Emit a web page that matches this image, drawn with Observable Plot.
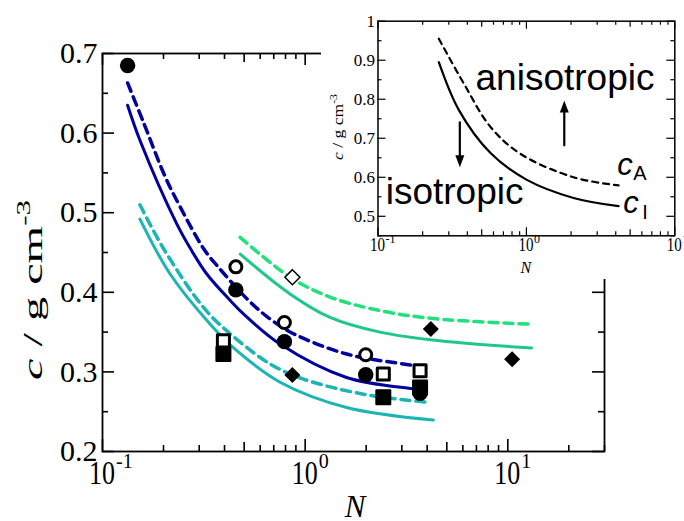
<!DOCTYPE html>
<html><head><meta charset="utf-8">
<script src="https://cdn.jsdelivr.net/npm/d3@7"></script>
<script src="https://cdn.jsdelivr.net/npm/@observablehq/plot@0.6"></script>
<style>
html,body{margin:0;padding:0;background:#fff;}
#wrap{position:relative;width:684px;height:521px;overflow:hidden;}
#wrap svg{position:absolute;top:0;left:0;max-width:none;}
</style></head><body><div id="wrap"></div>
<script>
// ---------- main chart data (N, c in g/cm^3) ----------
const navyDashN = [0.133, 0.159, 0.204, 0.242, 0.315, 0.366, 0.525, 0.671, 0.875, 1.60, 3.05, 3.5];
const navyDashC = [0.663, 0.614, 0.545, 0.507, 0.455, 0.434, 0.390, 0.3665, 0.348, 0.3225, 0.310, 0.308];
const navySolidN = [0.133, 0.153, 0.2325, 0.276, 0.327, 0.426, 0.496, 0.752, 1.60, 3.42, 3.7];
const navySolidC = [0.635, 0.591, 0.486, 0.452, 0.423, 0.390, 0.373, 0.335, 0.293, 0.2785, 0.277];
const tealDashN = [0.153, 0.20, 0.315, 0.426, 0.671, 0.98, 1.94, 4.13];
const tealDashC = [0.510, 0.455, 0.381, 0.348, 0.310, 0.291, 0.272, 0.2616];
const tealSolidN = [0.153, 0.2156, 0.34, 0.46, 0.752, 1.60, 4.29];
const tealSolidC = [0.492, 0.423, 0.360, 0.3267, 0.287, 0.2553, 0.2395];
const greenDashN = [0.478, 0.842, 1.327, 2.34, 4.29, 12.87];
const greenDashC = [0.469, 0.419, 0.394, 0.377, 0.367, 0.360];
const greenSolidN = [0.478, 0.842, 1.327, 2.34, 4.63, 13.1];
const greenSolidC = [0.448, 0.398, 0.3685, 0.350, 0.339, 0.330];

const filledCircleN = [0.133, 0.455, 0.79, 1.99, 3.69];
const filledCircleC = [0.685, 0.403, 0.338, 0.2965, 0.273];
const openCircleN = [0.455, 0.79, 1.99];
const openCircleC = [0.432, 0.362, 0.3216];
const filledSquareN = [0.395, 2.43, 3.69];
const filledSquareC = [0.3225, 0.268, 0.2804];
const openSquareN = [0.395, 2.43, 3.69];
const openSquareC = [0.339, 0.2973, 0.3015];
const filledDiamondN = [0.865, 4.17, 10.5];
const filledDiamondC = [0.296, 0.354, 0.316];
const openDiamondN = [0.865];
const openDiamondC = [0.419];

// ---------- inset data ----------
const cIN = [0.257, 0.351, 0.573, 1.0, 2.08, 4.18];
const cIC = [0.895, 0.772, 0.662, 0.594, 0.547, 0.526];
const cAN = [0.257, 0.379, 0.573, 0.912, 2.08, 4.18];
const cAC = [0.955, 0.840, 0.729, 0.660, 0.600, 0.579];
const arrowN = [0.356, 1.80];
const arrowFrom = [0.741, 0.682];
const arrowTo = [0.626, 0.797];
const regionLabels = ["anisotropic", "isotropic"];
const regionN = [0.454, 0.1127];
const regionC = [0.823, 0.5325];
const curveLabels = ["c", "c"];
const curveLabelN = [4.09, 4.49];
const curveLabelC = [0.605, 0.508];
const curveSubs = ["A", "I"];
const curveSubN = [5.24, 6.03];
const curveSubC = [0.592, 0.492];

// ---------- ticks ----------
const xMajor = [0.1, 1, 10];
const xExp = ["-1", "0", "1"];
const xMid = [0.5, 5];
const xMinorMain = [0.2,0.3,0.4,0.6,0.7,0.8,0.9,2,3,4,6,7,8,9,20,30];
const xMinorInset = [0.2,0.3,0.4,0.6,0.7,0.8,0.9,2,3,4,6,7,8,9];
const yMajorMain = [0.2,0.3,0.4,0.5,0.6,0.7];
const yMinorMain = [0.25,0.35,0.45,0.55,0.65];
const yMajorInset = [0.5,0.6,0.7,0.8,0.9,1.0];
const yMinorInset = [0.45,0.55,0.65,0.75,0.85,0.95];

const pts = (N, C) => N.map((n, i) => ({N: n, c: C[i]}));
const SERIF = "'Liberation Serif','Times New Roman',serif";
const SANS = "'Liberation Sans',Arial,sans-serif";

const diamond = {draw(ctx, size) { const r = Math.sqrt(size / Math.PI); ctx.moveTo(0, -r); ctx.lineTo(r, 0); ctx.lineTo(0, r); ctx.lineTo(-r, 0); ctx.closePath(); }};
const headUp = {draw(ctx, size) { const r = Math.sqrt(size / Math.PI); ctx.moveTo(0, 0); ctx.lineTo(0.75 * r, 2 * r); ctx.lineTo(-0.75 * r, 2 * r); ctx.closePath(); }};
const headDown = {draw(ctx, size) { const r = Math.sqrt(size / Math.PI); ctx.moveTo(0, 0); ctx.lineTo(0.75 * r, -2 * r); ctx.lineTo(-0.75 * r, -2 * r); ctx.closePath(); }};

function tickMarks(xs, ys, fw, fh, lenX, lenY, sw) {
  const out = [];
  xs.forEach((vals, k) => {
    out.push(Plot.ruleX(vals, {x: d => d, insetTop: fh - lenX[k], stroke: "black", strokeWidth: sw}));
    out.push(Plot.ruleX(vals, {x: d => d, insetBottom: fh - lenX[k], stroke: "black", strokeWidth: sw}));
  });
  ys.forEach((vals, k) => {
    out.push(Plot.ruleY(vals, {y: d => d, insetRight: fw - lenY[k], stroke: "black", strokeWidth: sw}));
    out.push(Plot.ruleY(vals, {y: d => d, insetLeft: fw - lenY[k], stroke: "black", strokeWidth: sw}));
  });
  return out;
}

const W = 684, H = 521;
const mL = 102, mR = 80, mT = 53, mB = 70;
const fw = W - mL - mR, fh = H - mT - mB;

const NAVY = "#00009c", TEAL = "#1cb4b4", GREEN = "#1fc78b", GREEN2 = "#22e07d";
const dash = "9,6";

const main = Plot.plot({
  width: W, height: H,
  marginLeft: mL, marginRight: mR, marginTop: mT, marginBottom: mB,
  x: {type: "log", domain: [0.1, 30], axis: null},
  y: {domain: [0.2, 0.7], axis: null},
  style: {fontFamily: SERIF, background: "white", color: "black"},
  marks: [
    Plot.frame({stroke: "black", strokeWidth: 1.8}),
    ...tickMarks([xMajor, xMid, xMinorMain], [yMajorMain, yMinorMain], fw, fh, [12, 9, 6], [12, 6], 1.6),
    Plot.axisY({ticks: yMajorMain, tickSize: 0, tickPadding: 5, fontSize: 30, tickFormat: d3.format(".1f"), label: null}),
    Plot.line(pts(greenDashN, greenDashC), {x: "N", y: "c", stroke: GREEN2, strokeWidth: 3.5, strokeDasharray: dash, curve: "catmull-rom"}),
    Plot.line(pts(greenSolidN, greenSolidC), {x: "N", y: "c", stroke: GREEN, strokeWidth: 3, curve: "catmull-rom"}),
    Plot.line(pts(tealDashN, tealDashC), {x: "N", y: "c", stroke: TEAL, strokeWidth: 3.5, strokeDasharray: dash, curve: "catmull-rom"}),
    Plot.line(pts(tealSolidN, tealSolidC), {x: "N", y: "c", stroke: TEAL, strokeWidth: 3, curve: "catmull-rom"}),
    Plot.line(pts(navyDashN, navyDashC), {x: "N", y: "c", stroke: NAVY, strokeWidth: 3.5, strokeDasharray: dash, curve: "catmull-rom"}),
    Plot.line(pts(navySolidN, navySolidC), {x: "N", y: "c", stroke: NAVY, strokeWidth: 3, curve: "catmull-rom"}),
    Plot.dot(pts(filledSquareN, filledSquareC), {x: "N", y: "c", symbol: "square", r: 7.9, fill: "black", stroke: "black", strokeWidth: 2, strokeLinejoin: "round"}),
    Plot.dot(pts(openSquareN, openSquareC), {x: "N", y: "c", symbol: "square", r: 6.8, fill: "white", stroke: "black", strokeWidth: 3, strokeLinejoin: "round"}),
    Plot.dot(pts(filledCircleN, filledCircleC), {x: "N", y: "c", symbol: "circle", r: 7.7, fill: "black"}),
    Plot.dot(pts(openCircleN, openCircleC), {x: "N", y: "c", symbol: "circle", r: 6, fill: "white", stroke: "black", strokeWidth: 3}),
    Plot.dot(pts(filledDiamondN, filledDiamondC), {x: "N", y: "c", symbol: diamond, r: 8, fill: "black"}),
    Plot.dot(pts(openDiamondN, openDiamondC), {x: "N", y: "c", symbol: diamond, r: 7.5, fill: "white", stroke: "black", strokeWidth: 1.5})
  ]
});
document.getElementById("wrap").appendChild(main);

// main axis texts
{
  const svg = d3.select(main);
  const sx = main.scale("x");
  const g = svg.append("g").attr("font-family", SERIF).attr("fill", "black");
  xMajor.forEach((v, i) => {
    const px = sx.apply(v);
    g.append("text").attr("x", px).attr("y", 484).attr("text-anchor", "middle")
      .attr("font-size", 34).attr("textLength", 26).attr("lengthAdjust", "spacingAndGlyphs").text("10");
    g.append("text").attr("x", px + 14).attr("y", 468).attr("text-anchor", "start")
      .attr("font-size", 20).text(xExp[i]);
  });
  g.append("text").attr("x", mL + fw / 2 + 2).attr("y", 517).attr("text-anchor", "middle")
    .attr("font-size", 31).attr("font-style", "italic").text("N");
  const t = g.append("text").attr("transform", "translate(42,290) rotate(-90)").attr("text-anchor", "middle")
    .attr("font-size", 28).attr("textLength", 180).attr("lengthAdjust", "spacingAndGlyphs");
  t.append("tspan").attr("font-style", "italic").text("c");
  t.append("tspan").text(" / g cm");
  t.append("tspan").attr("font-size", 18).attr("dy", -12).text("-3");
}

// ---------- inset ----------
const IW = 363, IH = 279;
const iL = 56.5, iR = 9.7, iT = 20.7, iB = 43.7;
const ifw = IW - iL - iR, ifh = IH - iT - iB;
const arrows = arrowN.map((n, i) => ({N: n, from: arrowFrom[i], to: arrowTo[i]}));

const inset = Plot.plot({
  width: IW, height: IH,
  marginLeft: iL, marginRight: iR, marginTop: iT, marginBottom: iB,
  x: {type: "log", domain: [0.1, 10], axis: null},
  y: {domain: [0.45, 1], axis: null},
  style: {fontFamily: SERIF, background: "white", color: "black"},
  marks: [
    Plot.frame({stroke: "black", strokeWidth: 1.5}),
    ...tickMarks([xMajor, xMid, xMinorInset], [yMajorInset, yMinorInset], ifw, ifh, [8, 6, 4], [8, 4], 1.2),
    Plot.axisY({ticks: yMajorInset, tickSize: 0, tickPadding: 3, fontSize: 17, tickFormat: d => d === 1 ? "1" : d.toFixed(1), label: null}),
    Plot.line(pts(cAN, cAC), {x: "N", y: "c", stroke: "black", strokeWidth: 2.2, strokeDasharray: "6,5", curve: "catmull-rom"}),
    Plot.line(pts(cIN, cIC), {x: "N", y: "c", stroke: "black", strokeWidth: 2.2, curve: "catmull-rom"}),
    Plot.arrow(arrows, {x: "N", y1: "from", y2: "to", stroke: "black", strokeWidth: 2.2, headLength: 0, insetEnd: 6}),
    Plot.dot(arrows.filter(d => d.to < d.from), {x: "N", y: "to", symbol: headDown, r: 6, fill: "black"}),
    Plot.dot(arrows.filter(d => d.to > d.from), {x: "N", y: "to", symbol: headUp, r: 6, fill: "black"}),
    Plot.text(regionLabels.map((s, i) => ({s, N: regionN[i], c: regionC[i]})), {x: "N", y: "c", text: "s", textAnchor: "start", lineAnchor: "bottom", fontSize: 37, fontFamily: SANS}),
    Plot.text(curveLabels.map((s, i) => ({s, N: curveLabelN[i], c: curveLabelC[i]})), {x: "N", y: "c", text: "s", textAnchor: "start", lineAnchor: "bottom", fontSize: 31, fontStyle: "italic", fontFamily: SANS}),
    Plot.text(curveSubs.map((s, i) => ({s, N: curveSubN[i], c: curveSubC[i]})), {x: "N", y: "c", text: "s", textAnchor: "start", lineAnchor: "bottom", fontSize: 20, fontFamily: SANS})
  ]
});
inset.style.left = "321px";
document.getElementById("wrap").appendChild(inset);

{
  const svg = d3.select(inset);
  const sx = inset.scale("x");
  const g = svg.append("g").attr("font-family", SERIF).attr("fill", "black");
  xMajor.forEach((v, i) => {
    const px = sx.apply(v);
    g.append("text").attr("x", px).attr("y", 251).attr("text-anchor", "middle")
      .attr("font-size", 18).attr("textLength", 15).attr("lengthAdjust", "spacingAndGlyphs").text("10");
    g.append("text").attr("x", px + 8).attr("y", 243).attr("text-anchor", "start")
      .attr("font-size", 12).text(xExp[i]);
  });
  g.append("text").attr("x", sx.apply(1)).attr("y", 273).attr("text-anchor", "middle")
    .attr("font-size", 16).attr("font-style", "italic").text("N");
  const t = g.append("text").attr("transform", "translate(22,127) rotate(-90)").attr("text-anchor", "middle")
    .attr("font-size", 15).attr("textLength", 66).attr("lengthAdjust", "spacingAndGlyphs");
  t.append("tspan").attr("font-style", "italic").text("c");
  t.append("tspan").text(" / g cm");
  t.append("tspan").attr("font-size", 10).attr("dy", -6).text("-3");
}
</script>
</body></html>
